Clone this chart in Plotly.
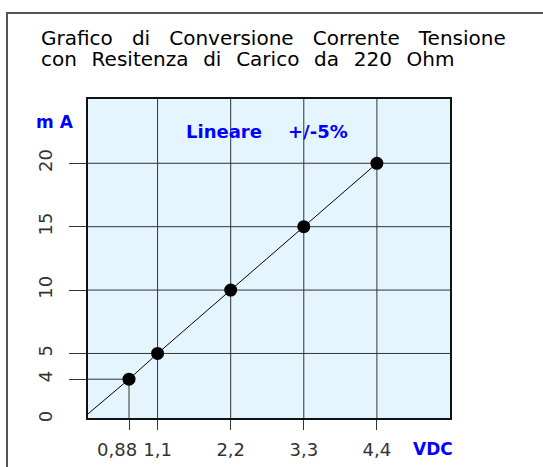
import plotly.graph_objects as go

# ---- data (positions) ----
volt_pos = [0.67, 1.1, 2.2, 3.3, 4.4]          # x positions of points
ma_pos = [2.97, 5, 10, 15, 20]                  # y positions of points
volt_labels = ["0,88", "1,1", "2,2", "3,3", "4,4"]
ma_labels = ["4", "5", "10", "15", "20"]
grid_x = [1.1, 2.2, 3.3, 4.4]
grid_y = [5, 10, 15, 20]
line_x = [0] + volt_pos
line_y = [0] + ma_pos

X_RANGE = [0.053, 5.50]
Y_RANGE = [-0.09, 25.07]

W, H = 543, 467
ML, MR, MT, MB = 88, 93, 99, 49
PW, PH = W - ML - MR, H - MT - MB

def px(xp):
    return (xp - ML) / PW

def py(yp):
    return (H - MB - yp) / PH

FONT = "DejaVu Sans"
BLUE = "#0000ff"
GRID = "#333333"
TICKC = "#333333"
NB = "\u00a0"

fig = go.Figure()

# partial guide lines for the first point
fig.add_trace(go.Scatter(
    x=[X_RANGE[0], volt_pos[0], volt_pos[0]],
    y=[ma_pos[0], ma_pos[0], Y_RANGE[0]],
    mode="lines", line=dict(color=GRID, width=1), hoverinfo="skip", showlegend=False))

# conversion line
fig.add_trace(go.Scatter(x=line_x, y=line_y, mode="lines",
                         line=dict(color="black", width=1), showlegend=False))
# points
fig.add_trace(go.Scatter(x=volt_pos, y=ma_pos, mode="markers",
                         marker=dict(color="black", size=13), cliponaxis=False,
                         showlegend=False))

shapes = []
for v in grid_x:
    shapes.append(dict(type="line", xref="x", yref="y domain", x0=v, x1=v, y0=0, y1=1,
                       line=dict(color=GRID, width=1), layer="below"))
for v in grid_y:
    shapes.append(dict(type="line", xref="x domain", yref="y", x0=0, x1=1, y0=v, y1=v,
                       line=dict(color=GRID, width=1), layer="below"))
# outer frame
shapes.append(dict(type="rect", xref="paper", yref="paper",
                   x0=px(7), x1=px(W + 20), y0=py(H + 20), y1=py(13),
                   line=dict(color="#555555", width=2)))

title1 = (NB * 3).join(["Grafico", "di", "Conversione", "Corrente", "Tensione"])
title2 = (NB * 2 + "\u200a").join(["con", "Resitenza", "di", "Carico", "da", "220", "Ohm"])

ann = []
ann.append(dict(text=title1, xref="paper", yref="paper", x=px(38.5), y=py(38.5),
                xanchor="left", yanchor="middle", showarrow=False,
                font=dict(family=FONT, size=20, color="black")))
ann.append(dict(text=title2, xref="paper", yref="paper", x=px(38.5), y=py(58.5),
                xanchor="left", yanchor="middle", showarrow=False,
                font=dict(family=FONT, size=20, color="black")))
ann.append(dict(text="<b>m A</b>", xref="paper", yref="paper", x=px(55), y=py(122),
                xanchor="center", yanchor="middle", showarrow=False,
                font=dict(family=FONT, size=17, color=BLUE)))
ann.append(dict(text="<b>VDC</b>", xref="paper", yref="paper", x=px(432.5), y=py(448.5),
                xanchor="center", yanchor="middle", showarrow=False,
                font=dict(family=FONT, size=17, color=BLUE)))
ann.append(dict(text="<b>Lineare</b>", xref="paper", yref="paper", x=px(223.5), y=py(131),
                xanchor="center", yanchor="middle", showarrow=False,
                font=dict(family=FONT, size=18, color=BLUE)))
ann.append(dict(text="<b>+/-5%</b>", xref="paper", yref="paper", x=px(317.5), y=py(131),
                xanchor="center", yanchor="middle", showarrow=False,
                font=dict(family=FONT, size=18, color=BLUE)))
# "0" label on the y axis (no tick mark there)
ann.append(dict(text="0", xref="paper", yref="y", x=px(45.5), y=0,
                xanchor="center", yanchor="middle", textangle=-90, showarrow=False,
                font=dict(family=FONT, size=18, color=TICKC)))
# "0,88" label, shifted left of its tick to avoid "1,1"
ann.append(dict(text=volt_labels[0], xref="paper", yref="paper", x=px(117), y=py(449),
                xanchor="center", yanchor="middle", showarrow=False,
                font=dict(family=FONT, size=18, color=TICKC)))

x_ticktext = [""] + volt_labels[1:]

fig.update_layout(
    width=W, height=H, margin=dict(l=ML, r=MR, t=MT, b=MB, autoexpand=False),
    paper_bgcolor="white", plot_bgcolor="#e5f5fe",
    shapes=shapes, annotations=ann, showlegend=False,
    xaxis=dict(range=X_RANGE, tickmode="array", tickvals=volt_pos, ticktext=x_ticktext,
               showgrid=False, zeroline=False, ticks="outside", ticklen=10, tickwidth=1,
               tickcolor=GRID, showline=True, mirror=True, linecolor="#111111", linewidth=1.5,
               tickangle=0, automargin=False,
               tickfont=dict(family=FONT, size=18, color=TICKC), ticklabelstandoff=5),
    yaxis=dict(range=Y_RANGE, tickmode="array", tickvals=ma_pos, ticktext=ma_labels,
               showgrid=False, zeroline=False, ticks="outside", ticklen=17, tickwidth=1,
               tickcolor=GRID, showline=True, mirror=True, linecolor="#111111", linewidth=1.5,
               tickangle=-90, automargin=False,
               tickfont=dict(family=FONT, size=18, color=TICKC), ticklabelstandoff=10),
)

fig.write_html("out.html", config={"displayModeBar": False},
               post_script="document.body.style.margin='0';")
